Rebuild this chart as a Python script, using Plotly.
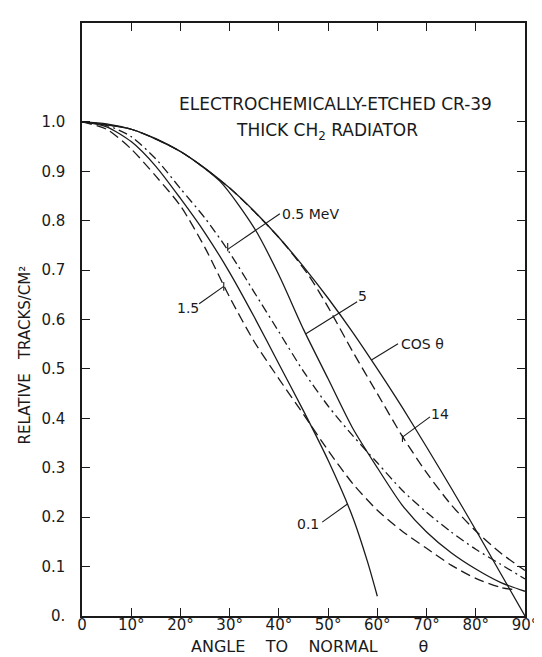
import plotly.graph_objects as go

# ---- data ----
theta_cos = [0, 5, 10, 15, 20, 25, 30, 35, 40, 45, 50, 55, 60, 65, 70, 75, 80, 85, 90]
rel_cos = [1.00, 0.996, 0.985, 0.966, 0.94, 0.906, 0.866, 0.819, 0.766, 0.707, 0.643,
           0.574, 0.50, 0.423, 0.342, 0.259, 0.174, 0.087, 0.0]

theta_14 = [0, 10, 20, 30, 40, 46, 50, 55, 60, 65, 70, 75, 80, 85, 90]
rel_14 = [1.00, 0.985, 0.94, 0.866, 0.766, 0.69, 0.625, 0.535, 0.45, 0.365, 0.29,
          0.225, 0.172, 0.128, 0.092]

theta_5 = [0, 10, 20, 28, 35, 40, 45, 50, 55, 60, 65, 70, 75, 80, 85, 90]
rel_5 = [1.00, 0.985, 0.94, 0.88, 0.785, 0.69, 0.58, 0.48, 0.38, 0.30, 0.225,
         0.17, 0.128, 0.095, 0.068, 0.05]

theta_05 = [0, 5, 10, 15, 20, 25, 30, 35, 40, 45, 50, 55, 60, 65, 70, 75, 80, 85, 90]
rel_05 = [1.00, 0.993, 0.97, 0.925, 0.865, 0.805, 0.735, 0.655, 0.575, 0.495, 0.425,
          0.365, 0.31, 0.255, 0.21, 0.17, 0.135, 0.105, 0.075]

theta_01 = [0, 5, 10, 15, 20, 25, 30, 35, 40, 45, 50, 55, 58, 60]
rel_01 = [1.00, 0.99, 0.96, 0.91, 0.845, 0.775, 0.695, 0.605, 0.51, 0.415, 0.315,
          0.20, 0.11, 0.04]

theta_15 = [0, 5, 10, 15, 20, 25, 30, 35, 40, 45, 50, 55, 60, 65, 70, 75, 80, 85, 88]
rel_15 = [1.00, 0.985, 0.945, 0.89, 0.83, 0.745, 0.645, 0.555, 0.48, 0.408, 0.335,
          0.268, 0.214, 0.172, 0.137, 0.103, 0.076, 0.058, 0.053]

x_tickvals = [0, 10, 20, 30, 40, 50, 60, 70, 80, 90]
x_ticktext = ["0", "10°", "20°", "30°", "40°", "50°", "60°", "70°", "80°", "90°"]
y_tickvals = [0, 0.1, 0.2, 0.3, 0.4, 0.5, 0.6, 0.7, 0.8, 0.9, 1.0]
y_ticktext = ["0.", "0.1", "0.2", "0.3", "0.4", "0.5", "0.6", "0.7", "0.8", "0.9", "1.0"]

INK = "#1a1a1a"
FONT = "DejaVu Sans"
NB = "\u00a0"

fig = go.Figure()

def curve(x, y, dash):
    fig.add_trace(go.Scatter(x=x, y=y, mode="lines",
                             line=dict(color=INK, width=1.3, dash=dash, shape="spline", smoothing=0.7),
                             hoverinfo="skip", showlegend=False))

curve(theta_cos, rel_cos, "solid")
curve(theta_14, rel_14, "10px,5px")
curve(theta_5, rel_5, "solid")
curve(theta_05, rel_05, "9px,4px,2px,4px")
curve(theta_01, rel_01, "solid")
curve(theta_15, rel_15, "10px,5px")

# leader lines (label -> curve) with small end stubs
leaders = [
    ((40.2, 0.814), (29.6, 0.742)),
    ((23.8, 0.632), (28.8, 0.667)),
    ((55.9, 0.636), (45.5, 0.571)),
    ((64.2, 0.551), (58.8, 0.518)),
    ((70.7, 0.403), (65.1, 0.362)),
    ((48.8, 0.190), (54.0, 0.227)),
]
for (x0, y0), (x1, y1) in leaders:
    fig.add_shape(type="line", x0=x0, y0=y0, x1=x1, y1=y1, xref="x", yref="y",
                  line=dict(color=INK, width=1.1))
stubs = [(29.6, 0.755, 0.738), (28.8, 0.676, 0.658), (65.1, 0.366, 0.352)]
for xs, ya, yb in stubs:
    fig.add_shape(type="line", x0=xs, y0=ya, x1=xs, y1=yb, xref="x", yref="y",
                  line=dict(color=INK, width=1.1))

def label(x, y, text, size=14, xanchor="center"):
    fig.add_annotation(x=x, y=y, xref="x", yref="y", text=text, showarrow=False,
                       xanchor=xanchor, yanchor="middle",
                       font=dict(family=FONT, size=size, color=INK))

label(51.5, 1.036, "ELECTROCHEMICALLY-ETCHED CR-39", size=17)
label(49.7, 0.980, "THICK CH<sub>2</sub> RADIATOR", size=17)
label(40.2, 0.814, "0.5 MeV", xanchor="left")
label(21.6, 0.624, "1.5")
label(57.0, 0.648, "5")
label(64.4, 0.551, "COS θ", xanchor="left")
label(72.7, 0.409, "14")
label(45.9, 0.186, "0.1")

fig.add_annotation(x=-0.128, y=0.44, xref="paper", yref="paper",
                   xanchor="center", yanchor="middle",
                   text="RELATIVE" + NB * 3 + "TRACKS/CM²", textangle=-90, showarrow=False,
                   font=dict(family=FONT, size=15, color=INK))
fig.add_annotation(x=0.514, y=-0.051, xref="paper", yref="paper",
                   xanchor="center", yanchor="middle",
                   text="ANGLE" + NB * 4 + "TO" + NB * 4 + "NORMAL" + NB * 8 + "θ",
                   showarrow=False,
                   font=dict(family=FONT, size=16, color=INK))

fig.update_xaxes(range=[0, 90], tickvals=x_tickvals, ticktext=x_ticktext,
                 showline=True, linecolor=INK, linewidth=1.5, mirror="ticks",
                 ticks="inside", ticklen=8, tickwidth=1.2, tickcolor=INK,
                 showgrid=False, zeroline=False, ticklabelstandoff=-6,
                 tickfont=dict(family=FONT, size=15, color=INK))
fig.update_yaxes(range=[0, 1.2], tickvals=y_tickvals, ticktext=y_ticktext,
                 showline=True, linecolor=INK, linewidth=1.5, mirror="ticks",
                 ticks="inside", ticklen=8, tickwidth=1.2, tickcolor=INK,
                 showgrid=False, zeroline=False, ticklabelstandoff=12,
                 tickfont=dict(family=FONT, size=15, color=INK))

fig.update_layout(width=542, height=657,
                  margin=dict(l=74, r=20, t=15, b=49),
                  paper_bgcolor="white", plot_bgcolor="white",
                  showlegend=False)

fig.write_html("out.html", config={"displayModeBar": False})
